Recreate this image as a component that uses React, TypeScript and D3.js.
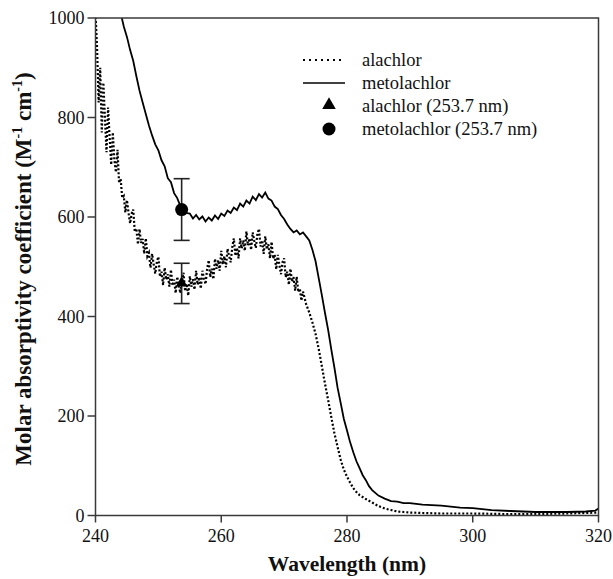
import React from "react";
import * as d3 from "d3";

const xTicks = [240, 260, 280, 300, 320];
const yTicks = [0, 200, 400, 600, 800, 1000];

const alachlorWl = [
  240.0, 240.25, 240.5, 240.75, 241.0, 241.25, 241.5, 241.75, 242.0, 242.25, 242.5, 242.75, 243.0, 243.25, 243.5, 243.75,
  244.0, 244.25, 244.5, 244.75, 245.0, 245.25, 245.5, 245.75, 246.0, 246.25, 246.5, 246.75, 247.0, 247.25, 247.5, 247.75,
  248.0, 248.25, 248.5, 248.75, 249.0, 249.25, 249.5, 249.75, 250.0, 250.25, 250.5, 250.75, 251.0, 251.25, 251.5, 251.75,
  252.0, 252.25, 252.5, 252.75, 253.0, 253.25, 253.5, 253.75, 254.0, 254.25, 254.5, 254.75, 255.0, 255.25, 255.5, 255.75,
  256.0, 256.25, 256.5, 256.75, 257.0, 257.25, 257.5, 257.75, 258.0, 258.25, 258.5, 258.75, 259.0, 259.25, 259.5, 259.75,
  260.0, 260.25, 260.5, 260.75, 261.0, 261.25, 261.5, 261.75, 262.0, 262.25, 262.5, 262.75, 263.0, 263.25, 263.5, 263.75,
  264.0, 264.25, 264.5, 264.75, 265.0, 265.25, 265.5, 265.75, 266.0, 266.25, 266.5, 266.75, 267.0, 267.25, 267.5, 267.75,
  268.0, 268.25, 268.5, 268.75, 269.0, 269.25, 269.5, 269.75, 270.0, 270.25, 270.5, 270.75, 271.0, 271.25, 271.5, 271.75,
  272.0, 272.25, 272.5, 272.75, 273.0, 273.5, 274.0, 274.5, 275.0, 275.5,
  276.0, 276.5, 277.0, 277.5, 278.0, 278.5, 279.0, 279.5, 280.0, 280.5, 281.0, 281.5, 282.0, 283.0, 284.0, 285.0,
  286.0, 287.0, 288.0, 289.0, 290.0, 292.0, 295.0, 300.0, 305.0, 310.0, 315.0, 320.0,
];
const alachlorVal = [
  1010, 940, 830, 900, 770, 870, 800, 730, 820, 760, 705, 770, 715, 690, 735, 668,
  677, 638, 642, 609, 634, 609, 587, 607, 615, 570, 577, 545, 576, 548, 556, 526,
  557, 521, 528, 498, 526, 505, 486, 509, 520, 480, 490, 463, 498, 474, 485, 460,
  494, 462, 474, 447, 480, 462, 447, 474, 488, 451, 466, 442, 481, 460, 475, 454,
  492, 464, 479, 456, 492, 477, 465, 495, 513, 479, 496, 475, 516, 496, 513, 492,
  532, 505, 521, 499, 536, 521, 509, 539, 557, 522, 538, 517, 557, 537, 553, 532,
  571, 543, 557, 534, 569, 552, 538, 566, 576, 541, 553, 526, 561, 535, 545, 517,
  550, 516, 524, 495, 524, 503, 485, 509, 517, 479, 490, 464, 496, 470, 479, 452,
  480, 449, 456, 432, 450, 425, 408, 388, 365, 335,
  300, 265, 232, 198, 165, 138, 112, 92, 78, 66, 55, 47, 41, 33, 26, 19,
  14, 11, 8, 7, 6, 5, 4, 4, 3, 3, 4, 6,
];

const metolachlorWl = [
  244.0, 244.5, 245.0, 245.5, 246.0, 246.5, 247.0, 247.5, 248.0, 248.5, 249.0, 249.5, 250.0, 250.5, 251.0, 251.5,
  252.0, 252.5, 253.0, 253.5, 254.0, 254.5, 255.0, 255.5, 256.0, 256.5, 257.0, 257.5, 258.0, 258.5, 259.0, 259.5,
  260.0, 260.5, 261.0, 261.5, 262.0, 262.5, 263.0, 263.5, 264.0, 264.5, 265.0, 265.5, 266.0, 266.5, 267.0, 267.5,
  268.0, 268.5, 269.0, 269.5, 270.0, 270.5, 271.0, 271.5, 272.0, 272.5, 273.0, 273.5, 274.0, 274.5, 275.0, 275.5,
  276.0, 276.5, 277.0, 277.5, 278.0, 278.5, 279.0, 279.5, 280.0, 280.5, 281.0, 281.5, 282.0, 282.5, 283.0, 283.5,
  284.0, 285.0, 286.0, 287.0, 288.0, 289.0, 290.0, 292.0, 295.0, 298.0, 300.0, 303.0, 306.0, 310.0, 315.0, 318.0,
  319.5, 320.0,
];
const metolachlorVal = [
  1010, 983, 962, 936, 914, 883, 854, 830, 807, 784, 764, 746, 734, 714, 702, 678,
  670, 648, 638, 622, 620, 608, 607, 597, 604, 595, 601, 591, 599, 593, 603, 596,
  607, 602, 613, 608, 619, 614, 627, 621, 633, 627, 641, 634, 646, 639, 649, 637,
  633, 621, 616, 604, 596, 585, 576, 569, 573, 565, 569, 561, 553, 534, 511, 477,
  443, 407, 373, 334, 297, 257, 226, 194, 171, 147, 127, 109, 95, 81, 71, 59,
  51, 40, 34, 29, 28, 25, 25, 22, 20, 16, 15, 11, 9, 7, 7, 8,
  10, 14,
];

const pointWl = 253.7;
const alachlorPoint = 467;
const alachlorErr = [426, 507];
const metolachlorPoint = 615;
const metolachlorErr = [553, 677];

const legendLabels = ["alachlor", "metolachlor", "alachlor (253.7 nm)", "metolachlor (253.7 nm)"];

export default function App() {
  const W = 613, H = 579;
  const x = d3.scaleLinear().domain([240, 320]).range([95.5, 598.5]);
  const y = d3.scaleLinear().domain([0, 1000]).range([515.5, 18]);
  const line = d3.line<[number, number]>().x((d) => x(d[0])).y((d) => y(d[1]));
  const alaPath = line(alachlorWl.map((w, i) => [w, alachlorVal[i]] as [number, number])) || "";
  const metPath = line(metolachlorWl.map((w, i) => [w, metolachlorVal[i]] as [number, number])) || "";
  const font = "'Liberation Serif', 'Times New Roman', serif";
  const axisColor = "#3a3a3a";
  const tri = d3.symbol().type(d3.symbolTriangle).size(60)() || "";
  const triLeg = d3.symbol().type(d3.symbolTriangle).size(80)() || "";
  const px = x(pointWl);
  const legX = 362;
  const legY = [60, 83, 106, 129];
  return (
    <svg width={W} height={H} style={{ position: "absolute", left: 0, top: 0, background: "#fff" }} fontFamily={font}>
      <defs>
        <clipPath id="plotClip">
          <rect x={x(240)} y={y(1000)} width={x(320) - x(240)} height={y(0) - y(1000)} />
        </clipPath>
      </defs>
      <g clipPath="url(#plotClip)">
        <path d={alaPath} fill="none" stroke="#000" strokeWidth={2.2} strokeDasharray="2 2" />
        <path d={metPath} fill="none" stroke="#000" strokeWidth={1.8} />
      </g>
      {[alachlorErr, metolachlorErr].map((e, i) => (
        <g key={i} stroke="#222" strokeWidth={1.6}>
          <line x1={px} x2={px} y1={y(e[0])} y2={y(e[1])} />
          <line x1={px - 8} x2={px + 8} y1={y(e[0])} y2={y(e[0])} />
          <line x1={px - 8} x2={px + 8} y1={y(e[1])} y2={y(e[1])} />
        </g>
      ))}
      <path d={tri} transform={`translate(${px},${y(alachlorPoint)})`} fill="#000" />
      <circle cx={px} cy={y(metolachlorPoint)} r={6.5} fill="#000" />
      <rect x={x(240)} y={y(1000)} width={x(320) - x(240)} height={y(0) - y(1000)} fill="none" stroke={axisColor} strokeWidth={1.5} />
      {xTicks.map((t) => (
        <g key={"x" + t}>
          <line x1={x(t)} x2={x(t)} y1={y(0)} y2={y(0) + 7} stroke={axisColor} strokeWidth={1.5} />
          <text x={x(t)} y={y(0) + 26.5} fontSize={18} textAnchor="middle" fill="#111">{t}</text>
        </g>
      ))}
      {yTicks.map((t) => (
        <g key={"y" + t}>
          <line x1={x(240) - 8} x2={x(240)} y1={y(t)} y2={y(t)} stroke={axisColor} strokeWidth={1.5} />
          <text x={x(240) - 11} y={y(t) + 6} fontSize={18} textAnchor="end" fill="#111">{t}</text>
        </g>
      ))}
      <text x={347} y={571} fontSize={21.5} fontWeight="bold" textAnchor="middle" fill="#111">Wavelength (nm)</text>
      <text transform="translate(31,269) rotate(-90)" fontSize={23} fontWeight="bold" textAnchor="middle" fill="#111">
        Molar absorptivity coefficient (M<tspan dy={-9} fontSize={14}>-1</tspan><tspan dy={9}> cm</tspan><tspan dy={-9} fontSize={14}>-1</tspan><tspan dy={9}>)</tspan>
      </text>
      <line x1={303} x2={345} y1={legY[0]} y2={legY[0]} stroke="#000" strokeWidth={2.2} strokeDasharray="2 4" />
      <line x1={303} x2={345} y1={legY[1]} y2={legY[1]} stroke="#000" strokeWidth={1.6} />
      <path d={triLeg} transform={`translate(${329},${legY[2] - 1})`} fill="#000" />
      <circle cx={329} cy={legY[3]} r={6.5} fill="#000" />
      {legendLabels.map((l, i) => (
        <text key={l} x={legX} y={legY[i] + 6} fontSize={18.5} fill="#111">{l}</text>
      ))}
    </svg>
  );
}
